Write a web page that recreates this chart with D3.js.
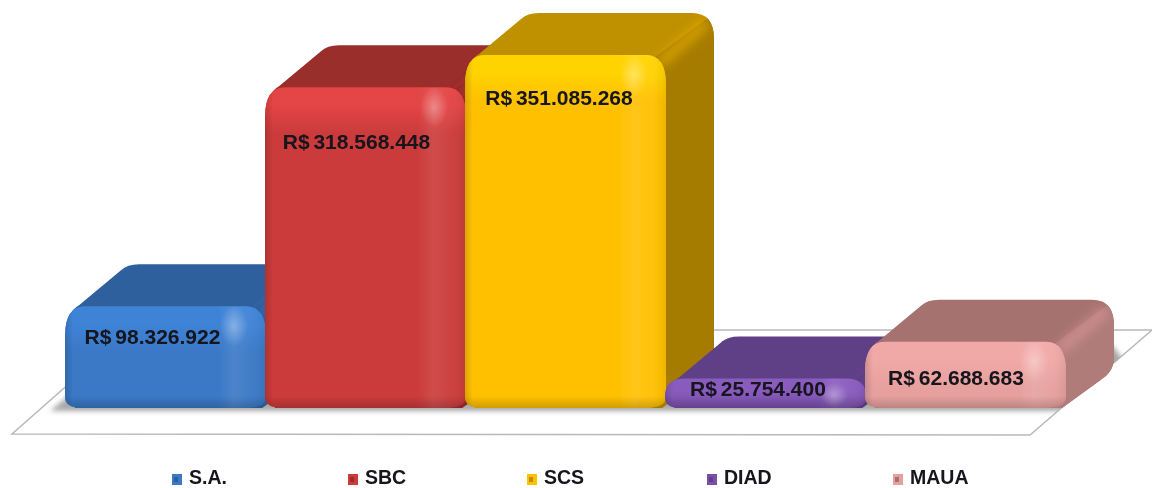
<!DOCTYPE html>
<html>
<head>
<meta charset="utf-8">
<script src="https://cdn.jsdelivr.net/npm/d3@7"></script>
<style>
  html, body { margin: 0; background: #fff; }
  svg { display: block; }
  text { font-family: "Liberation Sans", Arial, sans-serif; font-weight: bold; fill: #12121a; }
</style>
</head>
<body>
<svg id="chart" width="1152" height="488"></svg>
<script>
// Data
const categories = ["S.A.", "SBC", "SCS", "DIAD", "MAUA"];
const values = [98326922, 318568448, 351085268, 25754400, 62688683];
const valueLabels = ["R$ 98.326.922", "R$ 318.568.448", "R$ 351.085.268", "R$ 25.754.400", "R$ 62.688.683"];

// Colours per bar
const frontColors = ["#3a78c6", "#cb3b3b", "#ffc000", "#7b50ab", "#e6a09e"];
const brightColors = ["#3f84d8", "#e64545", "#ffd500", "#8a5cc0", "#f2aaa8"];
const topColors = ["#2f609d", "#9a2d2b", "#bf9000", "#5f4086", "#a67270"];
const sideColors = ["#2c5a94", "#8f2826", "#a67c00", "#573a7b", "#b07c7a"];

// Layout
const labelDrop = [30, 54, 43, 10, 36];
const labelShift = [-12.5, -8.5, -6, -7, -9];
const legendX = [172, 348, 527, 707, 893];
const depthX = 48, depthY = -42;

const svg = d3.select("#chart");
const defs = svg.append("defs");
const root = svg.append("g").attr("filter", "url(#soft)");

defs.append("filter").attr("id", "soft")
  .attr("filterUnits", "userSpaceOnUse")
  .attr("x", 0).attr("y", 0).attr("width", 1152).attr("height", 488)
  .append("feGaussianBlur").attr("stdDeviation", 0.45);
defs.append("filter").attr("id", "blur3")
  .attr("x", "-20%").attr("y", "-50%").attr("width", "140%").attr("height", "200%")
  .append("feGaussianBlur").attr("stdDeviation", 2.5);
defs.append("filter").attr("id", "blur5")
  .attr("filterUnits", "userSpaceOnUse")
  .attr("x", 0).attr("y", 0).attr("width", 1152).attr("height", 488)
  .append("feGaussianBlur").attr("stdDeviation", 5);

// Scales
const x = d3.scaleBand().domain(categories).range([65, 1065]);
const y = d3.scaleLinear().domain([0, d3.max(values)]).range([404, 55]);
const base = y(0) + 4;

// Front bevel, shared by all bars
const sideBevel = defs.append("linearGradient").attr("id", "sideBevel");
[[0, "#000", 0.14], [0.04, "#000", 0], [0.76, "#fff", 0], [0.84, "#fff", 0.09], [0.93, "#fff", 0.03], [1, "#000", 0.06]]
  .forEach(s => sideBevel.append("stop").attr("offset", s[0]).attr("stop-color", s[1]).attr("stop-opacity", s[2]));
const bottomBevel = defs.append("linearGradient").attr("id", "bottomBevel").attr("x2", 0).attr("y2", 1);
[[0, "#000", 0], [1, "#000", 0.18]]
  .forEach(s => bottomBevel.append("stop").attr("offset", s[0]).attr("stop-color", s[1]).attr("stop-opacity", s[2]));
const glint = defs.append("radialGradient").attr("id", "glint");
[[0, "#fff", 0.3], [1, "#fff", 0]]
  .forEach(s => glint.append("stop").attr("offset", s[0]).attr("stop-color", s[1]).attr("stop-opacity", s[2]));

// Floor
const floorPts = [[12, 434], [1030, 435], [1152, 330], [130, 330]];
defs.append("clipPath").attr("id", "floorClip")
  .append("polygon").attr("points", floorPts.join(" "));
root.append("polygon")
  .attr("points", floorPts.join(" "))
  .attr("fill", "#fff")
  .attr("stroke", "#b9b9b9")
  .attr("stroke-width", 1.5);

// Shadow on the floor
const shadow = root.append("g").attr("clip-path", "url(#floorClip)");
const right = x("MAUA") + x.bandwidth();
shadow.append("path")
  .attr("d", `M50,411 L${right + 2},411 L${right + depthX + 12},${base + depthY - 4} L${right + depthX},${base + depthY - 20} L100,370 Z`)
  .attr("fill", "#a8a8a8")
  .attr("filter", "url(#blur3)");

// Rounded front face, corners wider in y than in x at the top
function frontPath(x0, x1, yt, yb, rx, ry, rb) {
  return `M${x0},${yt + ry} Q${x0},${yt} ${x0 + rx},${yt} L${x1 - rx},${yt} Q${x1},${yt} ${x1},${yt + ry}
    L${x1},${yb - rb} Q${x1},${yb} ${x1 - rb * 2},${yb} L${x0 + rb * 1.6},${yb} Q${x0},${yb} ${x0},${yb - rb} Z`;
}

// Outline of front, top and side together
function bodyPath(x0, x1, yt, yb, ry) {
  const bx1 = x1 + depthX, by = yt + depthY;
  return `M${x0 + 1},${yt + ry} Q${x0 + 1},${yt + 6} ${x0 + 14},${yt - 1}
    L${x0 + 56},${by + 6} Q${x0 + 62},${by} ${x0 + 74},${by}
    L${bx1 - 22},${by} Q${bx1},${by} ${bx1},${by + 26}
    L${bx1},${yb + depthY - 8} Q${bx1},${yb + depthY + 2} ${bx1 - 8},${yb + depthY + 10}
    L${x1 - 4},${yb} L${x0 + 10},${yb} Z`;
}

// Bars, drawn left to right so each one covers its neighbour's depth
categories.forEach((cat, i) => {
  const x0 = x(cat), x1 = x0 + x.bandwidth() + 1;
  const yt = y(values[i]), h = base - yt;
  const ry = Math.min(30, h * 0.62), rx = 20, rb = Math.min(11, h * 0.35);
  const g = root.append("g");

  const bodyId = "body" + i, faceId = "face" + i, glowId = "glow" + i;
  const outline = bodyPath(x0, x1, yt, base, ry);
  const facePath = frontPath(x0, x1, yt, base, rx, ry, rb);
  defs.append("clipPath").attr("id", bodyId).append("path").attr("d", outline);
  defs.append("clipPath").attr("id", faceId).append("path").attr("d", facePath);

  // the upper front fades from the bright colour into the plain one
  const glow = defs.append("linearGradient").attr("id", glowId).attr("x2", 0).attr("y2", 1);
  glow.append("stop").attr("offset", 0).attr("stop-color", brightColors[i]).attr("stop-opacity", 0.9);
  glow.append("stop").attr("offset", 0.4).attr("stop-color", brightColors[i]).attr("stop-opacity", 0.9);
  glow.append("stop").attr("offset", 1).attr("stop-color", brightColors[i]).attr("stop-opacity", 0);

  // top and side faces
  g.append("path").attr("d", outline).attr("fill", topColors[i]);
  const body = g.append("g").attr("clip-path", `url(#${bodyId})`);
  body.append("polygon")
    .attr("points", [[x1 - 14, yt + 4], [x1 + depthX - 10, yt + depthY + 8], [x1 + depthX + 6, yt + depthY - 4],
      [x1 + depthX + 6, base + depthY + 20], [x1, base + 4], [x1 - 14, base]].join(" "))
    .attr("fill", sideColors[i]);
  body.append("line")
    .attr("x1", x1 - 6).attr("y1", yt + 8)
    .attr("x2", x1 + depthX - 8).attr("y2", yt + depthY + 10)
    .attr("stroke", frontColors[i])
    .attr("stroke-opacity", 0.45)
    .attr("stroke-width", 12)
    .attr("filter", "url(#blur5)");

  // front face
  g.append("path").attr("d", facePath).attr("fill", frontColors[i]);
  const face = g.append("g").attr("clip-path", `url(#${faceId})`);
  face.append("rect")
    .attr("x", x0).attr("y", yt).attr("width", x1 - x0).attr("height", Math.min(46, h))
    .attr("fill", `url(#${glowId})`);
  face.append("rect")
    .attr("x", x0).attr("y", yt).attr("width", x1 - x0).attr("height", h)
    .attr("fill", "url(#sideBevel)");
  face.append("rect")
    .attr("x", x0).attr("y", base - 12).attr("width", x1 - x0).attr("height", 12)
    .attr("fill", "url(#bottomBevel)");
  face.append("ellipse")
    .attr("cx", x1 - 32).attr("cy", yt + Math.min(20, h * 0.55))
    .attr("rx", 14).attr("ry", Math.min(20, h * 0.4))
    .attr("fill", "url(#glint)");
});

// Value labels on top of everything
root.append("g").selectAll("text")
  .data(valueLabels)
  .join("text")
  .attr("x", (d, i) => x(categories[i]) + x.bandwidth() / 2 + labelShift[i])
  .attr("y", (d, i) => y(values[i]) + labelDrop[i])
  .attr("dy", "0.35em")
  .attr("text-anchor", "middle")
  .attr("font-size", 21)
  .attr("word-spacing", -2)
  .text(d => d);

// Legend
const legend = root.append("g").selectAll("g")
  .data(categories)
  .join("g")
  .attr("transform", (d, i) => `translate(${legendX[i]},480)`);
legend.append("rect")
  .attr("y", -6).attr("width", 10).attr("height", 11)
  .attr("fill", (d, i) => frontColors[i]);
legend.append("rect")
  .attr("x", 2).attr("y", -3).attr("width", 4).attr("height", 5)
  .attr("fill", (d, i) => topColors[i]);
legend.append("text")
  .attr("x", 17)
  .attr("y", 4)
  .attr("font-size", 19.5)
  .text(d => d);
</script>
</body>
</html>
